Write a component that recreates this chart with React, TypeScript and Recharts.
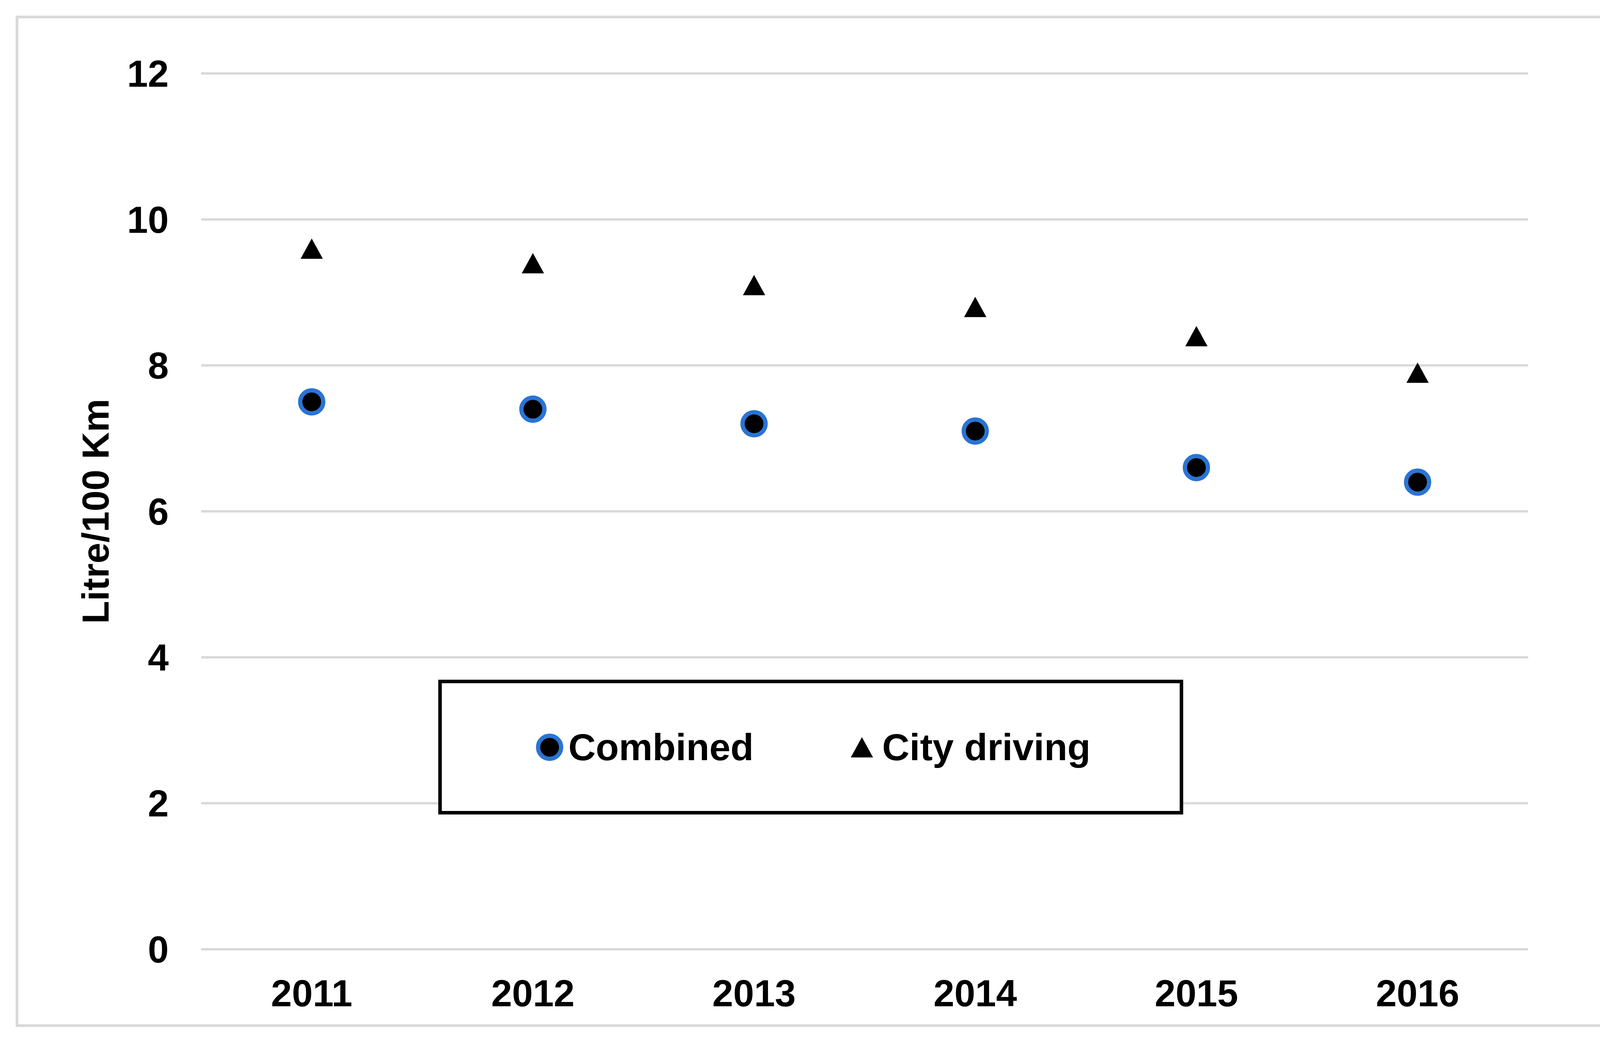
import React from 'react';
import { LineChart, Line, XAxis, YAxis, CartesianGrid, Legend } from 'recharts';

const years = ['2011', '2012', '2013', '2014', '2015', '2016'];
const combined = [7.5, 7.4, 7.2, 7.1, 6.6, 6.4];
const cityDriving = [9.6, 9.4, 9.1, 8.8, 8.4, 7.9];
const yTicks = [0, 2, 4, 6, 8, 10, 12];
const legendOrder = ['combined', 'city'];

const data = years.map((year, i) => ({ year, combined: combined[i], city: cityDriving[i] }));

const FONT = '"Liberation Sans", Arial, sans-serif';
const BLUE = '#2a74d4';

const CircleDot = (props: any) => {
  const { cx, cy, index } = props;
  if (cx == null || cy == null) return null;
  return <circle key={`c-${index}`} cx={cx} cy={cy} r={29.5} fill="#000" stroke={BLUE} strokeWidth={11} />;
};

const TriangleDot = (props: any) => {
  const { cx, cy, index } = props;
  if (cx == null || cy == null) return null;
  const w = 28.5;
  const h = 26;
  return (
    <polygon
      key={`t-${index}`}
      points={`${cx},${cy - h} ${cx - w},${cy + h} ${cx + w},${cy + h}`}
      fill="#000"
    />
  );
};

const YLabel = (props: any) => {
  const vb = props.viewBox || {};
  const cy = (vb.y ?? 188) + (vb.height ?? 2242) / 2;
  return (
    <text
      x={278}
      y={cy}
      transform={`rotate(-90, 278, ${cy})`}
      textAnchor="middle"
      fontFamily={FONT}
      fontWeight="bold"
      fontSize={96}
      fill="#000"
    >
      Litre/100 Km
    </text>
  );
};

const LegendBox = (props: any) => {
  const items = [...(props.payload || [])].sort(
    (a: any, b: any) => legendOrder.indexOf(a.dataKey) - legendOrder.indexOf(b.dataKey)
  );
  return (
    <div
      style={{
        boxSizing: 'border-box',
        width: '100%',
        height: '100%',
        border: '9px solid #000',
        background: '#fff',
        display: 'flex',
        alignItems: 'center',
        paddingLeft: 241,
        fontFamily: FONT,
        fontWeight: 'bold',
        fontSize: 97,
        color: '#000',
      }}
    >
      {items.map((entry: any, i: number) => (
        <div
          key={entry.value}
          style={{ display: 'flex', alignItems: 'center', marginLeft: i === 0 ? 0 : 249 }}
        >
          {entry.dataKey === 'combined' ? (
            <svg width={70} height={70} style={{ marginRight: 13 }}>
              <circle cx={35} cy={35} r={29.5} fill="#000" stroke={BLUE} strokeWidth={11} />
            </svg>
          ) : (
            <svg width={57} height={54} style={{ marginRight: 23 }}>
              <polygon points="28.5,1 0,53 57,53" fill="#000" />
            </svg>
          )}
          <span style={{ lineHeight: 1 }}>{entry.value}</span>
        </div>
      ))}
    </div>
  );
};

export default function App() {
  return (
    <div
      style={{
        position: 'absolute',
        left: 0,
        top: 0,
        width: 4226,
        height: 2670,
        overflow: 'hidden',
        background: '#fff',
      }}
    >
      <div
        style={{
          position: 'absolute',
          left: 40,
          top: 40,
          width: 4146,
          height: 2589,
          boxSizing: 'border-box',
          border: '7px solid #d9d9d9',
        }}
      />
      <div style={{ position: 'absolute', left: 0, top: 0 }}>
        <LineChart
          width={4226}
          height={2670}
          data={data}
          margin={{ top: 188, right: 314, left: 0, bottom: 0 }}
        >
          <CartesianGrid vertical={false} stroke="#d9d9d9" strokeWidth={6} />
          <XAxis
            dataKey="year"
            height={240}
            padding={{ left: 283, right: 283 }}
            axisLine={false}
            tickLine={false}
            tickSize={0}
            tickMargin={78}
            tick={{ fill: '#000', fontFamily: FONT, fontWeight: 'bold', fontSize: 96 }}
          />
          <YAxis
            width={515}
            domain={[0, 12]}
            ticks={yTicks}
            axisLine={false}
            tickLine={false}
            tickSize={0}
            tickMargin={83}
            tick={{ fill: '#000', fontFamily: FONT, fontWeight: 'bold', fontSize: 96 }}
            label={<YLabel />}
          />
          <Legend
            layout="horizontal"
            verticalAlign="middle"
            align="center"
            wrapperStyle={{ left: 1122, top: 1740, width: 1907, height: 345 }}
            content={<LegendBox />}
          />
          <Line
            dataKey="combined"
            name="Combined"
            stroke="none"
            dot={<CircleDot />}
            activeDot={false}
            isAnimationActive={false}
          />
          <Line
            dataKey="city"
            name="City driving"
            stroke="none"
            dot={<TriangleDot />}
            activeDot={false}
            isAnimationActive={false}
          />
        </LineChart>
      </div>
    </div>
  );
}
